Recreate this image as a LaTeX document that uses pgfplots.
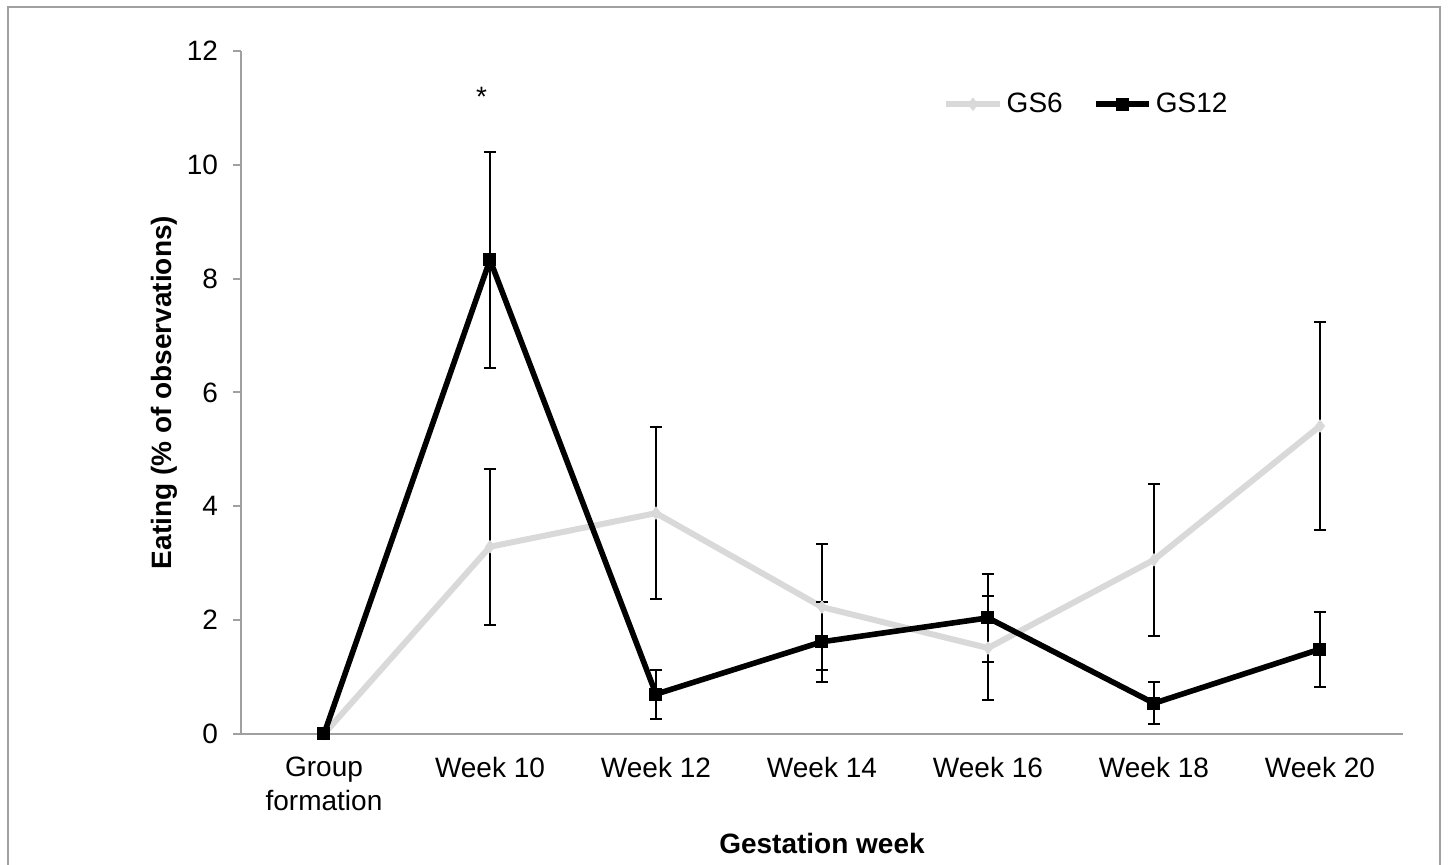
\documentclass[border=0pt]{standalone}
\usepackage{pgfplots}
\pgfplotsset{compat=1.18}
\usepackage{fontspec}
\setmainfont{Liberation Sans}
\definecolor{axisgray}{RGB}{160,160,160}
\definecolor{gslight}{RGB}{217,217,217}
\begin{document}
\begin{tikzpicture}
\path[use as bounding box] (0,0) rectangle (724pt,432.5pt);
\draw[axisgray, line width=1pt] (4pt,-2pt) rectangle (720pt,429pt);
\begin{axis}[
  at={(120.5pt,65.5pt)}, anchor=south west,
  scale only axis, width=581pt, height=341.5pt,
  xmin=-0.5, xmax=6.5, ymin=0, ymax=12,
  axis x line=bottom, axis y line=left,
  axis line style={-, draw=axisgray, line width=1pt},
  xtick={0,1,2,3,4,5,6},
  xticklabels={{Group\\formation},{Week 10},{Week 12},{Week 14},{Week 16},{Week 18},{Week 20}},
  xtick style={draw=none},
  minor xtick={-0.5,0.5,1.5,2.5,3.5,4.5,5.5,6.5},
  ytick={0,2,4,6,8,10,12},
  tick align=outside,
  major tick length=4pt, minor tick length=4pt,
  every tick/.style={axisgray, line width=1pt},
  minor tick style={axisgray, line width=1pt},
  tick label style={font=\fontsize{14}{17}\selectfont},
  xticklabel style={align=center, yshift=-4pt},
  yticklabel style={xshift=-4pt},
  /pgf/number format/assume math mode=true,
  xlabel={Gestation week}, ylabel={Eating (\% of observations)},
  every axis x label/.style={at={(axis description cs:0.5,-0.16)}, anchor=center, font=\fontsize{14}{17}\selectfont\bfseries},
  every axis y label/.style={at={(axis description cs:-0.066,0.5)}, rotate=90, anchor=center, font=\fontsize{14}{17}\selectfont\bfseries},
  legend style={at={(axis description cs:0.604,0.922)}, anchor=west, draw=none, fill=none,
    font=\fontsize{14}{17}\selectfont, legend columns=2,
    /tikz/every even column/.append style={column sep=13pt}, inner sep=0pt},
  legend image code/.code={\draw[mark repeat=2,mark phase=2] plot coordinates {(0cm,0cm) (0.47cm,0cm) (0.94cm,0cm)};},
  clip=false,
]
\addplot[gslight, line width=3pt, mark=diamond*, mark size=3pt, mark options={fill=gslight, draw=gslight, line width=0.5pt}]
  table[x=x, y=y] {
x y
0 0
1 3.29
2 3.88
3 2.23
4 1.51
5 3.06
6 5.41
};
\addlegendentry{GS6}
\addplot[black, line width=2.8pt, mark=square*, mark size=3pt, mark options={line width=0.5pt}]
  table[x=x, y=y] {
x y
0 0
1 8.33
2 0.70
3 1.62
4 2.04
5 0.54
6 1.49
};
\addlegendentry{GS12}
\addplot[draw=none, mark=none, forget plot,
  error bars/.cd, y dir=both, y explicit,
  error bar style={draw=black, line width=1pt},
  error mark options={draw=black, rotate=90, mark size=3pt, line width=1pt}]
  table[x=x, y=y, y error=e] {
x y e
1 3.29 1.37
2 3.88 1.51
3 2.23 1.11
4 1.51 0.91
5 3.06 1.33
6 5.41 1.82
};
\addplot[draw=none, mark=none, forget plot,
  error bars/.cd, y dir=both, y explicit,
  error bar style={draw=black, line width=1pt},
  error mark options={draw=black, rotate=90, mark size=3pt, line width=1pt}]
  table[x=x, y=y, y error=e] {
x y e
1 8.33 1.90
2 0.70 0.43
3 1.62 0.70
4 2.04 0.77
5 0.54 0.37
6 1.49 0.66
};
\node[font=\fontsize{14}{17}\selectfont] at (axis cs:0.95,11.2) {*};
\end{axis}
\end{tikzpicture}
\end{document}
